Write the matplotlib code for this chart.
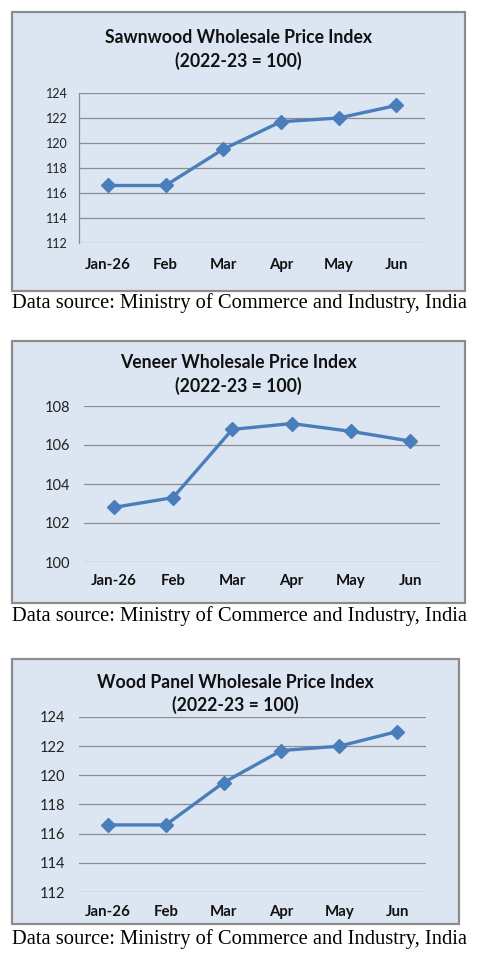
import matplotlib
matplotlib.use("Agg")
import matplotlib.pyplot as plt
from matplotlib.patches import Rectangle

months = ["Jan-26", "Feb", "Mar", "Apr", "May", "Jun"]
sawnwood = [116.6, 116.6, 119.5, 121.7, 122.0, 123.0]
veneer = [102.8, 103.3, 106.8, 107.1, 106.7, 106.2]
wood_panel = [116.6, 116.6, 119.5, 121.7, 122.0, 123.0]

titles = ["Sawnwood Wholesale Price Index\n(2022-23 = 100)",
          "Veneer Wholesale Price Index\n(2022-23 = 100)",
          "Wood Panel Wholesale Price Index\n(2022-23 = 100)"]
source = "Data source: Ministry of Commerce and Industry, India"

W, H = 479, 957
fig = plt.figure(figsize=(W / 100, H / 100), dpi=100)
fig.patch.set_facecolor("white")

SANS = "Lato"
BG = "#DCE6F2"
LINE = "#4A7EBB"
GRID = "#8C8C8C"


def fx(x):
    return x / W


def fy(y):
    return 1 - y / H


panels = [
    dict(box=(12, 12, 465, 291), ax=(79, 93, 425, 243), ylim=(112, 124), yt=[112, 114, 116, 118, 120, 122, 124],
         data=sawnwood, title_y=(37, 61), yfs=9, xfs=10.8, tfs=12.7, xlab_y=264, src_y=303, spine=True),
    dict(box=(12, 341, 465, 603), ax=(84, 406, 440, 562), ylim=(100, 108), yt=[100, 102, 104, 106, 108],
         data=veneer, title_y=(363, 385), yfs=10.5, xfs=10.8, tfs=12.7, xlab_y=581, src_y=616, spine=False),
    dict(box=(12, 659, 459, 924), ax=(79, 717, 426, 892), ylim=(112, 124), yt=[112, 114, 116, 118, 120, 122, 124],
         data=wood_panel, title_y=(682, 705), yfs=10.5, xfs=10.8, tfs=12.7, xlab_y=912, src_y=939, spine=False),
]

for p, title in zip(panels, titles):
    x0, y0, x1, y1 = p["box"]
    fig.patches.append(Rectangle((fx(x0), fy(y1)), fx(x1 - x0), (y1 - y0) / H,
                                 transform=fig.transFigure, facecolor=BG, edgecolor="#8C8C8C",
                                 linewidth=1.6, zorder=-5))
    ax0, ay0, ax1, ay1 = p["ax"]
    ax = fig.add_axes([fx(ax0), fy(ay1), fx(ax1 - ax0), (ay1 - ay0) / H])
    ax.set_zorder(2)
    ax.set_facecolor("none")
    ax.plot(range(len(months)), p["data"], color=LINE, linewidth=2.4, marker="D",
            markersize=7.5, markerfacecolor=LINE, markeredgecolor=LINE, zorder=3, clip_on=False)
    ax.set_xlim(-0.5, len(months) - 0.5)
    ax.set_ylim(*p["ylim"])
    ax.set_yticks(p["yt"])
    ax.set_yticklabels([str(v) for v in p["yt"]], fontsize=p["yfs"], family=SANS, color="#222222")
    ax.set_xticks(range(len(months)))
    ax.set_xticklabels(months, fontsize=p["xfs"], family=SANS, fontweight="bold", color="#111111")
    ax.tick_params(axis="both", length=0)
    ax.tick_params(axis="y", pad=8 if p["spine"] else 10)
    xlab_pad = p["xlab_y"] - ay1 - 10.5
    ax.tick_params(axis="x", pad=xlab_pad)
    ax.grid(axis="y", color=GRID, linewidth=0.9)
    ax.set_axisbelow(True)
    for s in ["top", "right", "bottom"]:
        ax.spines[s].set_visible(False)
    if p["spine"]:
        ax.spines["left"].set_color(GRID)
        ax.spines["left"].set_linewidth(0.9)
    else:
        ax.spines["left"].set_visible(False)
    cx = (x0 + x1) / 2
    fig.text(fx(cx), fy((p["title_y"][0] + p["title_y"][1]) / 2 + 0.5), title, ha="center", va="center",
             fontsize=p["tfs"], family=SANS, fontweight="bold", color="#111111", linespacing=1.38)
    fig.text(fx(12), fy(p["src_y"]), source, ha="left", va="center", fontsize=14.75,
             family="Liberation Serif", color="black")

fig.savefig("out.png", dpi=100, facecolor="white")
